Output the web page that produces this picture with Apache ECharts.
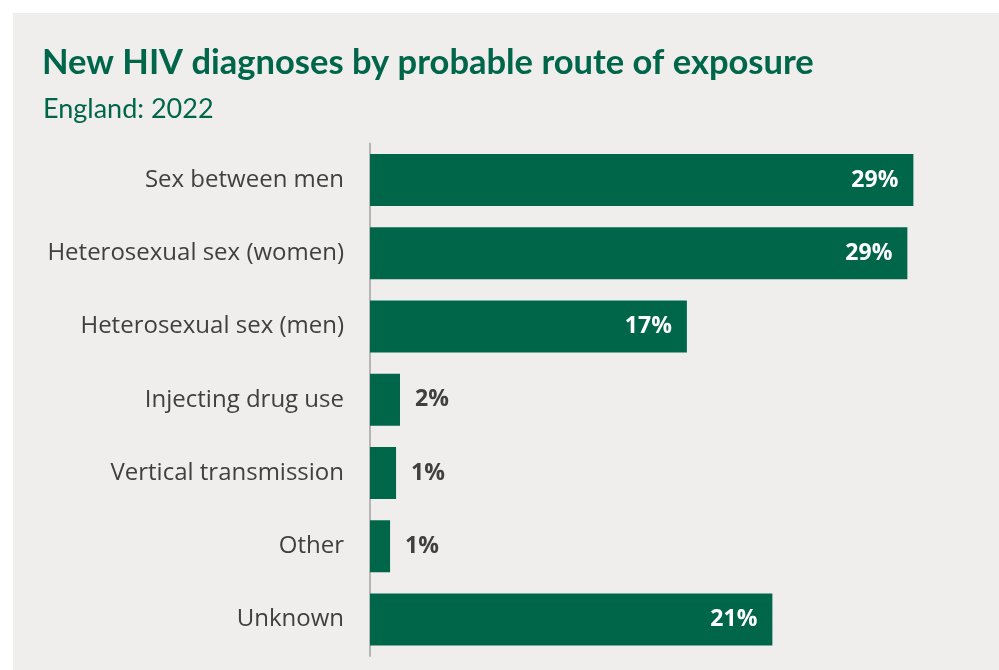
<!DOCTYPE html>
<html>
<head>
<meta charset="utf-8">
<style>
  html, body { margin: 0; padding: 0; background: #ffffff; }
  #chart { width: 999px; height: 670px; }
</style>
<script src="https://cdn.jsdelivr.net/npm/echarts@6/dist/echarts.min.js"></script>
</head>
<body>
<div id="chart"></div>
<script>
// Probable route of exposure, England 2022 (share of new HIV diagnoses, %)
const routes = [
  'Sex between men',
  'Heterosexual sex (women)',
  'Heterosexual sex (men)',
  'Injecting drug use',
  'Vertical transmission',
  'Other',
  'Unknown'
];
const shares = [28.98, 28.66, 16.9, 1.6, 1.39, 1.07, 21.46];
// Bars shorter than this carry their label outside the bar end
const insideLabelMin = 5;

const GREEN = '#00664a';
const TEXT = '#404040';

const chart = echarts.init(document.getElementById('chart'), null, { renderer: 'canvas' });

const data = shares.map(v => {
  const inside = v >= insideLabelMin;
  return {
    value: v,
    label: inside
      ? { position: 'insideRight', distance: 15, color: '#ffffff' }
      : { position: 'right', distance: 15, color: TEXT }
  };
});

chart.setOption({
  backgroundColor: '#ffffff',
  animation: false,
  graphic: [{
    type: 'rect',
    z: -10,
    shape: { x: 13, y: 13, width: 999, height: 670 },
    style: { fill: '#efeeec' }
  }],
  title: [{
    text: 'New HIV diagnoses by probable route of exposure',
    left: 37,
    top: 40,
    textStyle: { fontFamily: 'Lato', fontWeight: 'bold', fontSize: 34.5, color: GREEN }
  }, {
    text: 'England: 2022',
    left: 38,
    top: 91,
    textStyle: { fontFamily: 'Lato', fontWeight: 'normal', fontSize: 27, color: GREEN }
  }],
  grid: { left: 370, right: 66.5, top: 143.5, bottom: 14, containLabel: false },
  xAxis: {
    type: 'value',
    min: 0,
    max: 30,
    show: false
  },
  yAxis: {
    type: 'category',
    inverse: true,
    data: routes,
    axisLine: { show: true, lineStyle: { color: '#b5b5b5', width: 2 } },
    axisTick: { show: false },
    axisLabel: {
      margin: 26,
      fontFamily: 'Open Sans',
      fontSize: 24,
      color: TEXT
    }
  },
  series: [{
    type: 'bar',
    data: data,
    barCategoryGap: '29%',
    itemStyle: { color: GREEN },
    label: {
      show: true,
      fontFamily: 'Open Sans',
      fontWeight: 'bold',
      fontSize: 23,
      formatter: p => Math.round(p.value) + '%'
    }
  }]
});
</script>
</body>
</html>
